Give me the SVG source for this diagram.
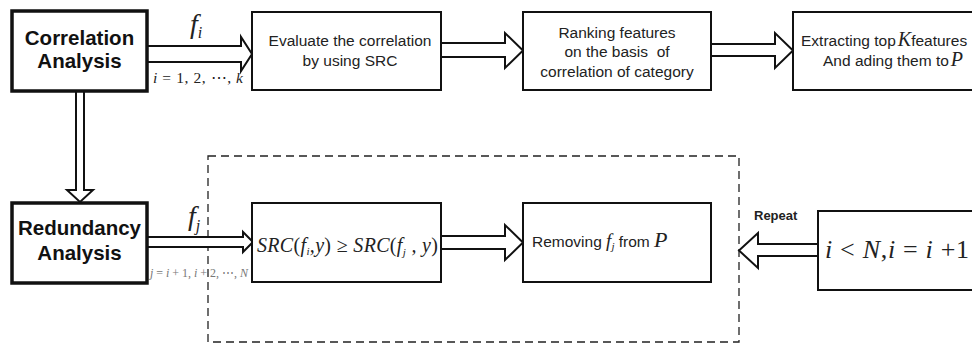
<svg xmlns="http://www.w3.org/2000/svg" width="972" height="344" viewBox="0 0 972 344">
<style>
.box{fill:#fff;stroke:#111;stroke-width:2}
.thick{fill:#fff;stroke:#111;stroke-width:3.5}
.arr{fill:#fff;stroke:#111;stroke-width:2;stroke-linejoin:miter}
.t{font-family:"Liberation Sans",Arial,sans-serif;font-size:15.5px;fill:#222;text-anchor:middle}
.b{font-family:"Liberation Sans",Arial,sans-serif;font-weight:bold;font-size:20.5px;fill:#111;text-anchor:middle}
.m{font-family:"Liberation Serif","Times New Roman",serif;font-style:italic;fill:#222}
.u{font-style:normal}
</style>
<rect x="0" y="0" width="972" height="344" fill="#fff"/>
<g id="dashed-region">
<rect x="208" y="156" width="531" height="186" fill="none" stroke="#222" stroke-width="1.3" stroke-dasharray="8,5"/>
</g>
<g id="connectors">
<path class="arr" d="M147,46 H241 V37 L252,54 L241,71 V62 H147"/>
<path class="arr" d="M441,43 H505 V33 L523,50.5 L505,68 V57 H441"/>
<path class="arr" d="M711,44 H775 V33 L793,50.5 L775,68 V56 H711"/>
<path class="arr" d="M76,92 V190 H67 L80,202 L93,190 H84 V92"/>
<path class="arr" d="M148,237 H243 V232 L253,242 L243,252 V247 H148"/>
<path class="arr" d="M441,236 H505 V225 L523,242.5 L505,260 V249 H441"/>
<path class="arr" d="M818,244 H758 V233 L739,250.5 L758,268 V256 H818"/>
<text x="190" y="33" class="m" font-size="28">f<tspan font-size="16" dy="5">i</tspan></text>
<text x="153" y="83" class="m" font-size="15.5" textLength="90" lengthAdjust="spacing">i <tspan class="u">= 1, 2, ⋯, </tspan>k</text>
<text x="188" y="225" class="m" font-size="28">f<tspan font-size="16" dy="6">j</tspan></text>
<text x="150" y="277" class="m" font-size="12" style="fill:#777" textLength="98" lengthAdjust="spacing">j <tspan class="u">= </tspan>i<tspan class="u"> + 1, </tspan>i<tspan class="u"> + 2, ⋯, </tspan>N</text>
<text x="754" y="220" font-family="'Liberation Sans',Arial,sans-serif" font-weight="bold" font-size="13" fill="#222">Repeat</text>
</g>
<g id="correlation-analysis">
<rect class="thick" x="12" y="11" width="135" height="80"/>
<text class="b" x="79.5" y="45">Correlation</text>
<text class="b" x="79.5" y="68">Analysis</text>
</g>
<g id="evaluate">
<rect class="box" x="252" y="12" width="189" height="78"/>
<text class="t" x="350" y="46">Evaluate the correlation</text>
<text class="t" x="350" y="66">by using SRC</text>
</g>
<g id="ranking">
<rect class="box" x="523" y="12" width="188" height="78"/>
<text class="t" x="617" y="38">Ranking features</text>
<text class="t" x="617" y="57" xml:space="preserve">on the basis  of</text>
<text class="t" x="617" y="77">correlation of category</text>
</g>
<g id="extracting">
<rect class="box" x="793" y="12" width="190" height="78"/>
<text class="t" x="801" y="46" style="text-anchor:start">Extracting top<tspan class="m" font-size="20" dx="2">K</tspan>features</text>
<text class="t" x="823" y="66" style="text-anchor:start">And ading them to<tspan class="m" font-size="20" dx="2">P</tspan></text>
</g>
<g id="redundancy-analysis">
<rect class="thick" x="12" y="203" width="135" height="80"/>
<text class="b" x="79.5" y="235" font-size="21">Redundancy</text>
<text class="b" x="79.5" y="260" font-size="21">Analysis</text>
</g>
<g id="src-compare">
<rect class="box" x="252" y="203" width="189" height="79"/>
<text class="m" x="257" y="252" font-size="20" textLength="181" lengthAdjust="spacing">SRC<tspan class="u">(</tspan>f<tspan font-size="11" dy="3">i</tspan><tspan dy="-3">,</tspan>y<tspan class="u">) ≥ </tspan>SRC<tspan class="u">(</tspan>f<tspan font-size="11" dy="4">j</tspan><tspan dy="-4"> , </tspan>y<tspan class="u">)</tspan></text>
</g>
<g id="removing">
<rect class="box" x="523" y="203" width="188" height="79"/>
<text class="t" x="532" y="247" style="text-anchor:start">Removing <tspan class="m" font-size="19">f</tspan><tspan class="m" font-size="11" dy="3">j</tspan><tspan dy="-3"> from </tspan><tspan class="m" font-size="22">P</tspan></text>
</g>
<g id="repeat-condition">
<rect class="box" x="818" y="211" width="170" height="79"/>
<text class="m" x="825" y="258" font-size="26" textLength="144" lengthAdjust="spacing">i<tspan class="u"> &lt; </tspan>N<tspan class="u">,</tspan>i<tspan class="u"> = </tspan>i<tspan class="u"> +1</tspan></text>
</g>
</svg>
